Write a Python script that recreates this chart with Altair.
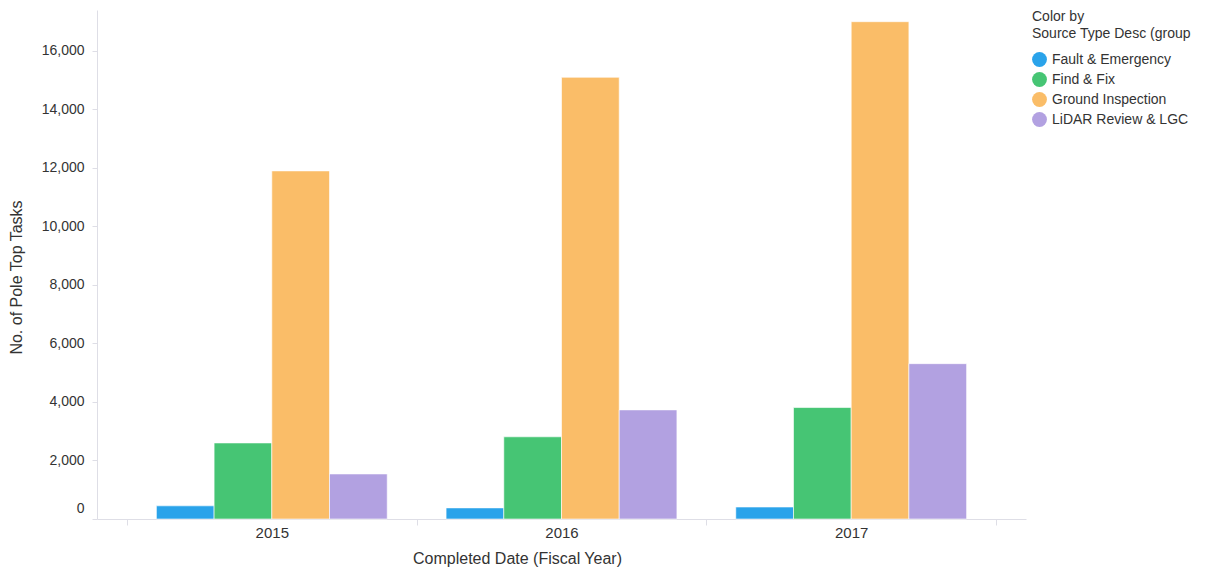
import altair as alt
import pandas as pd

# Task counts by fiscal year and source type
years = ["2015", "2016", "2017"]
source_types = ["Fault & Emergency", "Find & Fix", "Ground Inspection", "LiDAR Review & LGC"]
fault_emergency = [450, 380, 410]
find_fix = [2600, 2810, 3810]
ground_inspection = [11900, 15100, 17000]
lidar_review = [1540, 3730, 5310]
palette = ["#2AA3EA", "#46C574", "#FABD68", "#B2A1E1"]
y_ticks = [0, 2000, 4000, 6000, 8000, 10000, 12000, 14000, 16000]

series = [fault_emergency, find_fix, ground_inspection, lidar_review]
rows = []
for name, values in zip(source_types, series):
    for year, v in zip(years, values):
        rows.append({"year": year, "source": name, "tasks": v})
df = pd.DataFrame(rows)

FONT = "Liberation Sans"
TEXT = "#333333"
AXIS_GREY = "#DEDEE6"

chart = (
    alt.Chart(df)
    .mark_bar(stroke="white", strokeWidth=1, strokeOpacity=0.6)
    .encode(
        # Year bands touch each other so the extent ticks sit between groups;
        # the gap around each group comes from the offset scale's outer padding.
        x=alt.X(
            "year:N",
            sort=years,
            scale=alt.Scale(paddingInner=0, paddingOuter=0.1034),
            axis=alt.Axis(
                title="Completed Date (Fiscal Year)",
                labelAngle=0,
                labelFontSize=15,
                tickBand="extent",
                tickSize=6,
                labelPadding=0,
                titleFontSize=16,
                titleX=420,
                titleY=39,
                titleBaseline="middle",
                titleAlign="center",
            ),
        ),
        xOffset=alt.XOffset(
            "source:N",
            sort=source_types,
            scale=alt.Scale(paddingInner=0, paddingOuter=0.51),
        ),
        y=alt.Y(
            "tasks:Q",
            scale=alt.Scale(domain=[0, 17400], nice=False),
            axis=alt.Axis(
                title="No. of Pole Top Tasks",
                values=y_ticks,
                format=",d",
                grid=False,
                labelFontSize=14,
                tickSize=5,
                labelPadding=8,
                labelFlush=True,
                labelFlushOffset=-4,
                titleFontSize=16,
                titleX=-81,
                titleY=267,
                titleBaseline="middle",
                titleAlign="center",
            ),
        ),
        color=alt.Color(
            "source:N",
            sort=source_types,
            scale=alt.Scale(domain=source_types, range=palette),
            legend=alt.Legend(
                title=["Color by", "Source Type Desc (group"],
                orient="none",
                legendX=935,
                legendY=0,
                symbolType="circle",
                symbolSize=220,
                symbolStrokeWidth=0,
                symbolOpacity=1,
                labelOffset=5,
                rowPadding=5,
                titlePadding=11,
                padding=0,
            ),
        ),
    )
    .properties(
        width=929,
        height=509,
        autosize=alt.AutoSizeParams(type="none"),
        padding={"left": 97, "top": 10, "right": 190, "bottom": 49},
    )
    .configure_view(strokeWidth=0)
    .configure_axis(
        labelFont=FONT,
        titleFont=FONT,
        labelColor=TEXT,
        titleColor=TEXT,
        titleFontWeight="normal",
        domainColor=AXIS_GREY,
        tickColor=AXIS_GREY,
    )
    .configure_legend(
        labelFont=FONT,
        titleFont=FONT,
        labelFontSize=14,
        titleFontSize=14,
        titleFontWeight="normal",
        labelColor=TEXT,
        titleColor=TEXT,
        titleLineHeight=17,
        labelLimit=200,
        titleLimit=200,
    )
)

chart.save("out.html", embed_options={"renderer": "svg", "actions": False})
